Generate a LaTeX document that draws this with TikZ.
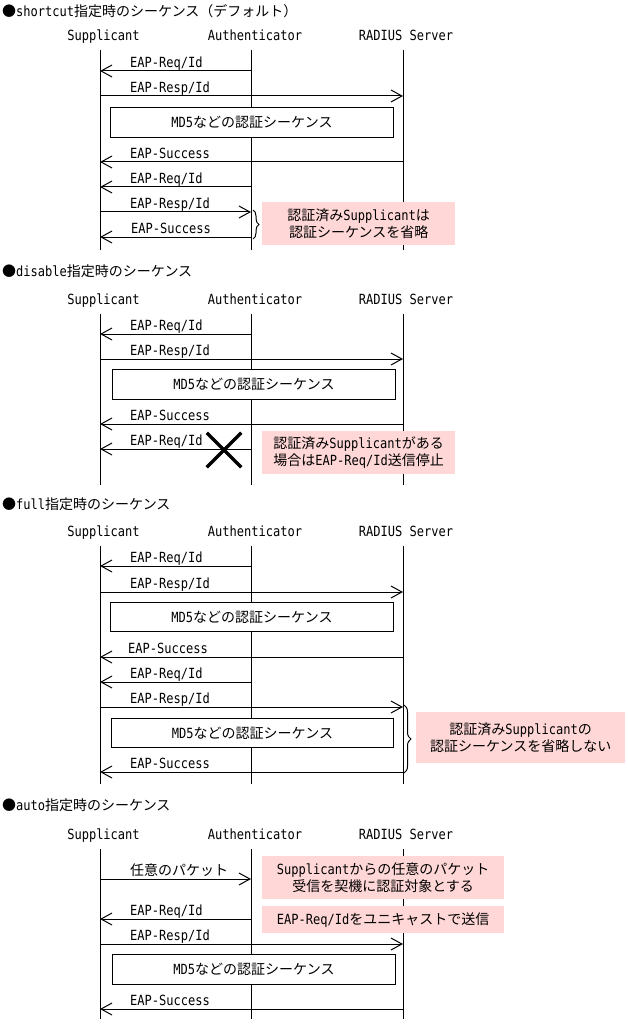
\documentclass[tikz,border=0pt]{standalone}
\usepackage{fontspec}
\setmainfont{Noto Sans CJK JP}
\newfontfamily\latf{DejaVu Sans Mono}[FakeStretch=0.86]
\newcommand\lt[1]{{\latf #1}}
\usetikzlibrary{arrows.meta,decorations.pathreplacing,shapes.misc}
\definecolor{pinkbg}{RGB}{255,215,215}
\newcommand\fs{\fontsize{14}{16.5}\selectfont}
\tikzset{
  lifeline/.style={line width=1pt},
  msgline/.style={line width=1pt,-{Straight Barb[length=11pt,width=12pt,line width=1pt]}},
  msglabel/.style={anchor=base west,inner sep=0pt,font=\fs\latf},
  header/.style={anchor=base,inner sep=0pt,font=\fs\latf},
  titletext/.style={anchor=base west,inner sep=0pt,font=\fs},
  seqbox/.style={draw,line width=1pt,fill=white,anchor=north west,inner sep=0pt,font=\fs},
  note/.style={fill=pinkbg,anchor=north west,inner sep=0pt,align=center,font=\fs},
  bracemark/.style={line width=1pt,decorate,decoration={brace,amplitude=#1}},
}
% name, header baseline y, top, bottom
\newcommand\lanes[4]{%
  \node[header] (#1sup) at (103.5,#2) {Supplicant};
  \node[header] (#1aut) at (255,#2) {Authenticator};
  \node[header] (#1rad) at (406,#2) {RADIUS Server};
  \coordinate (#1supT) at (100,#3); \coordinate (#1supB) at (100,#4);
  \coordinate (#1autT) at (251,#3); \coordinate (#1autB) at (251,#4);
  \coordinate (#1radT) at (403,#3); \coordinate (#1radB) at (403,#4);
  \draw[lifeline] (#1supT) -- (#1supB);
  \draw[lifeline] (#1autT) -- (#1autB);
  \draw[lifeline] (#1radT) -- (#1radB);
}
% name, x from, x to, y, label x, label
\newcommand\seqmsg[6]{%
  \coordinate (#1s) at (#2,#4);
  \coordinate (#1e) at (#3,#4);
  \draw[msgline] (#1s) -- (#1e);
  \node[msglabel] (#1l) at (#5,#4-3.5) {#6};
}
\begin{document}
\begin{tikzpicture}[x=1pt,y=-1pt]
\useasboundingbox[fill=white] (0,0) rectangle (628,1024);

%%%%% Section 1
\node[titletext] (t1) at (2,17) {●\lt{shortcut}指定時のシーケンス（デフォルト）};
\lanes{a}{41}{50}{250}
\node[seqbox,minimum width=283pt,minimum height=30pt] (a5) at (110,107) {\lt{MD5}などの認証シーケンス};
\seqmsg{a1}{251}{100}{71}{130}{EAP-Req/Id}
\seqmsg{a2}{100}{403}{96}{130}{EAP-Resp/Id}
\seqmsg{a3}{403}{100}{162}{130}{EAP-Success}
\seqmsg{a4}{251}{100}{187}{130}{EAP-Req/Id}
\seqmsg{a6}{100}{251}{212}{130}{EAP-Resp/Id}
\seqmsg{a7}{251}{100}{237}{131}{EAP-Success}
\coordinate (abt) at (253,210); \coordinate (abb) at (253,239);
\draw[bracemark=6pt] (abt) -- (abb);
\node[note,minimum width=193pt,minimum height=43pt] (an) at (262,202) {認証済み\lt{Supplicant}は\\認証シーケンスを省略};

%%%%% Section 2
\node[titletext] (t2) at (2,276) {●\lt{disable}指定時のシーケンス};
\lanes{b}{304.5}{314}{485}
\node[seqbox,minimum width=283pt,minimum height=30pt] (b5) at (112,369) {\lt{MD5}などの認証シーケンス};
\seqmsg{b1}{251}{100}{334}{130}{EAP-Req/Id}
\seqmsg{b2}{100}{403}{359}{130}{EAP-Resp/Id}
\seqmsg{b3}{403}{100}{424}{130}{EAP-Success}
\seqmsg{b4}{251}{100}{449}{130}{EAP-Req/Id}
\node[cross out,draw,line width=3.5pt,minimum size=31pt,inner sep=0pt] (bx) at (224,450) {};
\node[note,minimum width=193pt,minimum height=43pt] (bn) at (262,431) {認証済み\lt{Supplicant}がある\\場合は\lt{EAP-Req/Id}送信停止};

%%%%% Section 3
\node[titletext] (t3) at (2,509) {●\lt{full}指定時のシーケンス};
\lanes{c}{536.5}{546}{784}
\node[seqbox,minimum width=283pt,minimum height=29pt] (c5) at (110,602) {\lt{MD5}などの認証シーケンス};
\node[seqbox,minimum width=282pt,minimum height=29pt] (c9) at (111,718) {\lt{MD5}などの認証シーケンス};
\seqmsg{c1}{251}{100}{566}{130}{EAP-Req/Id}
\seqmsg{c2}{100}{403}{592}{130}{EAP-Resp/Id}
\seqmsg{c3}{403}{100}{657}{128}{EAP-Success}
\seqmsg{c4}{251}{100}{682}{130}{EAP-Req/Id}
\seqmsg{c6}{100}{403}{707}{130}{EAP-Resp/Id}
\seqmsg{c7}{403}{100}{772}{130}{EAP-Success}
\coordinate (cbt) at (404,705); \coordinate (cbb) at (404,773);
\draw[bracemark=7pt] (cbt) -- (cbb);
\node[note,minimum width=209pt,minimum height=51pt] (cn) at (416,712) {認証済み\lt{Supplicant}の\\認証シーケンスを省略しない};

%%%%% Section 4
\node[titletext] (t4) at (2,810) {●\lt{auto}指定時のシーケンス};
\lanes{d}{839}{849}{1019}
\node[seqbox,minimum width=283pt,minimum height=30pt] (d5) at (112,954) {\lt{MD5}などの認証シーケンス};
\seqmsg{d1}{100}{251}{879}{130}{\rmfamily 任意のパケット}
\seqmsg{d2}{251}{100}{919}{130}{EAP-Req/Id}
\seqmsg{d3}{100}{403}{944}{130}{EAP-Resp/Id}
\seqmsg{d4}{403}{100}{1009}{130}{EAP-Success}
\node[note,minimum width=242pt,minimum height=43pt] (dn1) at (262,856) {\lt{Supplicant}からの任意のパケット\\受信を契機に認証対象とする};
\node[note,minimum width=242pt,minimum height=27pt] (dn2) at (262,906) {\lt{EAP-Req/Id}をユニキャストで送信};
\end{tikzpicture}
\end{document}
